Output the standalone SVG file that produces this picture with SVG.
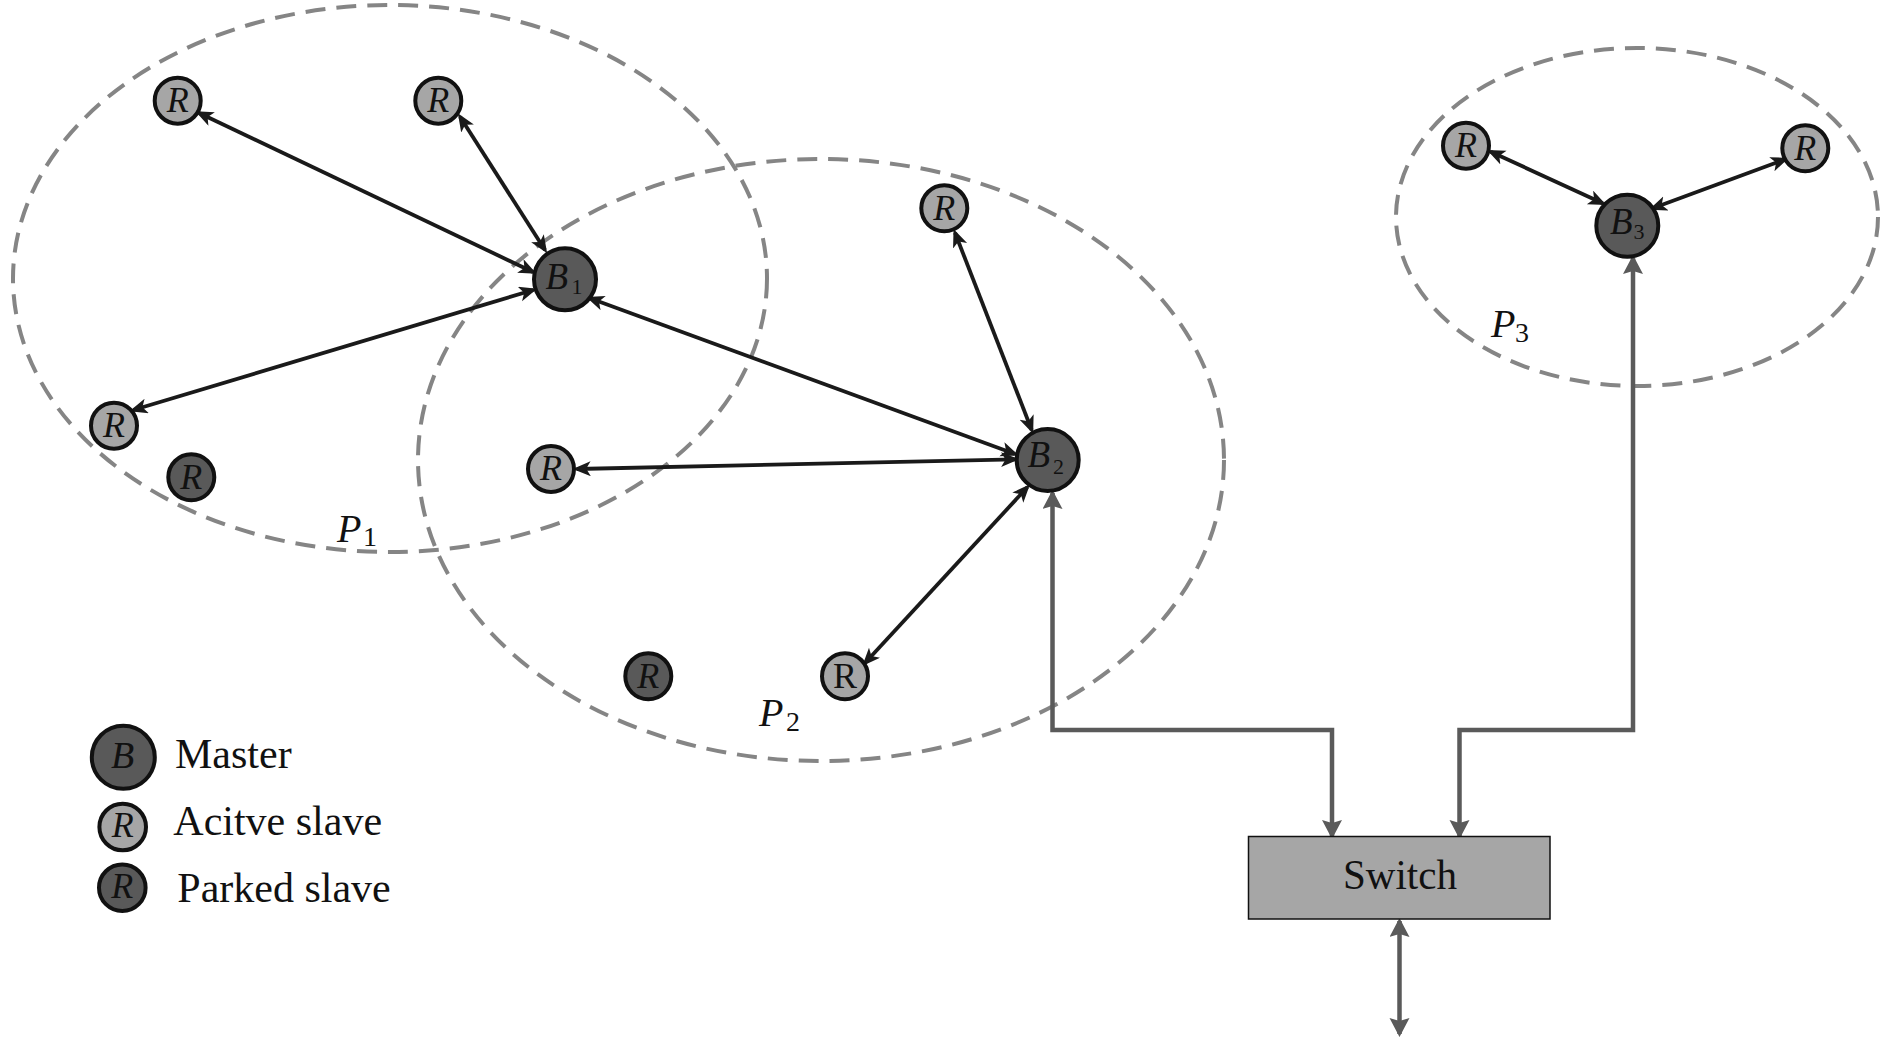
<svg xmlns="http://www.w3.org/2000/svg" width="1890" height="1039" viewBox="0 0 1890 1039">
<style>
.area{fill:none;stroke:#858585;stroke-width:4;stroke-dasharray:20 11}
.master{fill:#595959;stroke:#111;stroke-width:4}
.active{fill:#a6a6a6;stroke:#111;stroke-width:4}
.parked{fill:#595959;stroke:#111;stroke-width:4}
.lbl{font-family:"Liberation Serif","Times New Roman",serif;fill:#111}
.it{font-style:italic}
.rl{font-size:36px;text-anchor:middle;font-style:italic}
.bl{font-size:37px;font-style:italic}
.sub{font-size:22px;font-style:normal}
.plbl{font-size:40px;font-style:italic}
.psub{font-size:28px;font-style:normal}
.leg{font-size:42px}
.link{fill:none;stroke:#1a1a1a;stroke-width:3.8;marker-start:url(#ab);marker-end:url(#ab)}
.glink{fill:none;stroke:#5a5a5a;stroke-width:4.5;marker-start:url(#ag);marker-end:url(#ag)}
</style>
<defs>
<marker id="ab" markerUnits="userSpaceOnUse" markerWidth="22" markerHeight="18" refX="14" refY="7.5" orient="auto-start-reverse">
<path d="M0,0 L18,7.5 L0,15 L4.5,7.5 Z" fill="#1a1a1a"/>
</marker>
<marker id="ag" markerUnits="userSpaceOnUse" markerWidth="24" markerHeight="22" refX="16" refY="10" orient="auto-start-reverse">
<path d="M0,0 L19,10 L0,20 L3,10 Z" fill="#5a5a5a"/>
</marker>
</defs>
<rect width="1890" height="1039" fill="#fff"/>

<g id="piconets">
<ellipse class="area" cx="390" cy="278.5" rx="377" ry="273.5"/>
<ellipse class="area" cx="821" cy="460" rx="403" ry="301"/>
<ellipse class="area" cx="1637" cy="217" rx="241" ry="169"/>
<text class="lbl plbl" x="337" y="541.5">P<tspan class="psub" x="363" y="546">1</tspan></text>
<text class="lbl plbl" x="759" y="726">P<tspan class="psub" x="786" y="731">2</tspan></text>
<text class="lbl plbl" x="1491" y="337">P<tspan class="psub" x="1515" y="342">3</tspan></text>
</g>

<g id="connectors">
<line class="link" x1="199" y1="113" x2="533" y2="272"/>
<line class="link" x1="460" y1="116.7" x2="545" y2="250"/>
<line class="link" x1="133.3" y1="410" x2="533.3" y2="290"/>
<line class="link" x1="590" y1="298.3" x2="1015" y2="454"/>
<line class="link" x1="576.7" y1="469" x2="1015" y2="459.3"/>
<line class="link" x1="955" y1="232.7" x2="1031.7" y2="430"/>
<line class="link" x1="865" y1="663" x2="1027.3" y2="487.3"/>
<line class="link" x1="1490.7" y1="151.7" x2="1602.7" y2="203.3"/>
<line class="link" x1="1785" y1="159.3" x2="1652.7" y2="208.3"/>
<path class="glink" d="M1052.5,493 V730 H1332 V836"/>
<path class="glink" d="M1633,258 V730 H1459.5 V836"/>
<line class="glink" x1="1399.5" y1="921" x2="1399.5" y2="1034"/>
</g>

<g id="B1"><circle class="master" cx="565" cy="279.3" r="31"/><text class="lbl bl" x="545.5" y="288.5">B<tspan class="sub" x="571.5" y="293.5">1</tspan></text></g>
<g id="B2"><circle class="master" cx="1047.7" cy="460" r="31"/><text class="lbl bl" x="1027.5" y="467">B<tspan class="sub" x="1053" y="474">2</tspan></text></g>
<g id="B3"><circle class="master" cx="1627.3" cy="225.7" r="31"/><text class="lbl bl" x="1610" y="233.5">B<tspan class="sub" x="1633.5" y="239">3</tspan></text></g>

<g id="R1a"><circle class="active" cx="177.7" cy="100.7" r="23"/><text class="lbl rl" x="177.7" y="112">R</text></g>
<g id="R1b"><circle class="active" cx="438.3" cy="100.7" r="23"/><text class="lbl rl" x="438.3" y="112">R</text></g>
<g id="R1c"><circle class="active" cx="114" cy="425.7" r="23"/><text class="lbl rl" x="114" y="437">R</text></g>
<g id="R1p"><circle class="parked" cx="191.3" cy="477.3" r="23"/><text class="lbl rl" x="191.3" y="488.6">R</text></g>
<g id="R2a"><circle class="active" cx="551" cy="469" r="23"/><text class="lbl rl" x="551" y="480.3">R</text></g>
<g id="R2b"><circle class="active" cx="944.3" cy="208.3" r="23"/><text class="lbl rl" x="944.3" y="219.6">R</text></g>
<g id="R2c"><circle class="active" cx="845" cy="676.3" r="23"/><text class="lbl" x="845" y="687.6" font-size="36" text-anchor="middle">R</text></g>
<g id="R2p"><circle class="parked" cx="648.3" cy="676.3" r="23"/><text class="lbl rl" x="648.3" y="687.6">R</text></g>
<g id="R3a"><circle class="active" cx="1466" cy="145.7" r="23"/><text class="lbl rl" x="1466" y="157">R</text></g>
<g id="R3b"><circle class="active" cx="1805.3" cy="148.3" r="23"/><text class="lbl rl" x="1805.3" y="159.6">R</text></g>

<g id="switch">
<rect x="1248.5" y="836.5" width="301.5" height="82.5" fill="#a6a6a6" stroke="#111" stroke-width="1.5"/>
<text class="lbl" x="1400" y="889" font-size="42" text-anchor="middle" textLength="114" lengthAdjust="spacingAndGlyphs">Switch</text>
</g>

<g id="legend">
<g id="leg-master"><circle class="master" cx="123.3" cy="757.3" r="31.5"/><text class="lbl it" x="122.5" y="768.3" font-size="38" text-anchor="middle">B</text><text class="lbl leg" x="175" y="768.3">Master</text></g>
<g id="leg-active"><circle class="active" cx="122.7" cy="827" r="23.3"/><text class="lbl rl" x="122.7" y="837">R</text><text class="lbl leg" x="173.3" y="835">Acitve slave</text></g>
<g id="leg-parked"><circle class="parked" cx="122.3" cy="887.7" r="23.3"/><text class="lbl rl" x="122.3" y="897.7">R</text><text class="lbl leg" x="177.3" y="901.7">Parked slave</text></g>
</g>
</svg>
